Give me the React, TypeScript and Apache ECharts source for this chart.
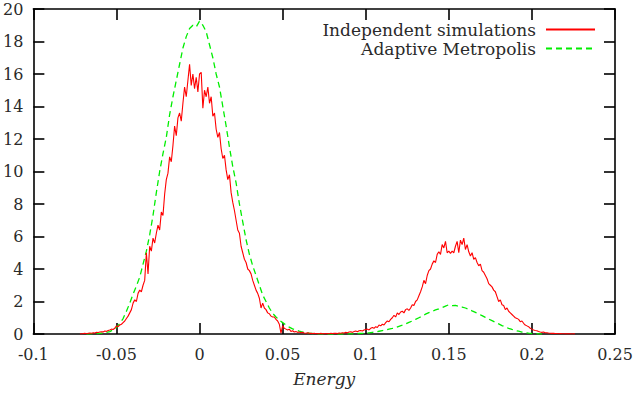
import React, { useEffect, useRef } from "react";
import * as echarts from "echarts";

// Histogram bins (bin start and width) for each series
const redStart = -0.072;
const redStep = 0.001;
const redValues = [
  0.02, 0.0, 0.03, 0.05, 0.02, 0.04, 0.06, 0.05, 0.08, 0.06, 0.1, 0.09, 0.12,
  0.14, 0.13, 0.18, 0.16, 0.22, 0.25, 0.3, 0.28, 0.35, 0.5,
  0.45, 0.55, 0.6, 0.7, 0.8, 0.95, 1.1, 1.3, 1.5, 1.9,
  2.1, 2.0, 2.5, 2.7, 2.6, 3.0, 3.3, 5.0, 3.7, 5.4,
  5.1, 5.9, 5.6, 6.2, 6.7, 6.4, 7.5, 7.3, 8.6, 9.5,
  9.9, 10.9, 10.6, 11.6, 12.8, 12.2, 13.3, 13.6, 13.1, 14.2,
  15.2, 14.6, 15.6, 16.6, 15.3, 16.0, 15.1, 15.8, 14.9, 16.0,
  16.1, 13.9, 15.0, 14.6, 15.2, 14.2, 14.6, 13.4, 13.6, 12.6,
  12.1, 12.4, 11.4, 10.8, 11.0, 10.1, 9.5, 9.8, 8.7, 8.1,
  7.6, 7.0, 6.4, 6.2, 5.4, 5.0, 4.6, 4.4, 4.0, 3.9,
  3.7, 3.3, 3.0, 2.7, 2.5, 2.2, 1.6, 1.9, 1.6, 1.5,
  1.3, 1.25, 1.1, 1.05, 1.05, 0.9, 0.8, 0.6, 0.05, 0.5,
  0.35, 0.3, 0.25, 0.3, 0.15, 0.2, 0.12, 0.15, 0.1, 0.12,
  0.08, 0.1, 0.06, 0.05, 0.08, 0.04, 0.05, 0.03, 0.05, 0.02,
  0.03, 0.02, 0.04, 0.01, 0.03, 0.02, 0.03, 0.02, 0.04, 0.03,
  0.04, 0.05, 0.03, 0.06, 0.05, 0.08, 0.06, 0.1, 0.08, 0.12,
  0.14, 0.1, 0.15, 0.18, 0.14, 0.2, 0.22, 0.18, 0.25, 0.28,
  0.3, 0.25, 0.35, 0.4, 0.35, 0.45, 0.4, 0.55, 0.5, 0.6,
  0.55, 0.7, 0.8, 0.75, 0.9, 1.0, 1.15, 1.05, 1.3, 1.2,
  1.35, 1.4, 1.3, 1.5, 1.55, 1.45, 1.6, 1.8, 1.75, 2.0,
  2.1, 2.35, 2.6, 2.9, 3.3, 3.1, 3.6, 3.9, 4.0, 4.3,
  4.5, 4.4, 4.9, 5.06, 4.9, 5.5, 5.3, 5.7, 5.0, 5.1,
  4.96, 5.1, 5.0, 5.4, 5.7, 5.0, 5.78, 5.5, 5.9, 5.2,
  5.5, 5.06, 4.8, 5.0, 4.6, 4.7, 4.4, 4.2, 4.3, 3.9,
  3.8, 3.6, 3.4, 3.1, 3.0, 2.9, 2.7, 2.6, 2.3, 2.0,
  2.1, 1.8, 1.75, 1.5, 1.6, 1.4, 1.3, 1.2, 1.1, 1.0,
  0.96, 0.9, 0.75, 0.8, 0.66, 0.55, 0.5, 0.45, 0.35, 0.3,
  0.25, 0.22, 0.2, 0.15, 0.12, 0.1, 0.12, 0.08, 0.08, 0.06,
  0.05, 0.04, 0.05, 0.03, 0.03, 0.02, 0.03, 0.02, 0.02, 0.01, 0.02, 0.01, 0.01, 0.0, 0.01, 0.0,
];

const greenStart = -0.068;
const greenStep = 0.002;
const greenValues = [
  0.0, 0.01, 0.02, 0.03, 0.04, 0.06, 0.1, 0.15, 0.25, 0.4,
  0.65, 0.95, 1.4, 1.9, 2.45, 2.95, 3.5, 4.3, 5.1, 6.1,
  7.3, 8.7, 10.0, 11.1, 12.1, 13.5, 14.6, 15.6, 16.6, 17.6,
  18.3, 18.8, 19.0, 18.9, 19.25, 19.0, 18.6, 17.8, 17.0, 16.0,
  15.2, 14.0, 12.8, 11.5, 10.3, 9.3, 8.0, 6.9, 5.8, 4.9,
  4.2, 3.6, 3.0, 2.4, 2.0, 1.6, 1.27, 1.05, 0.85, 0.7,
  0.55, 0.42, 0.32, 0.24, 0.17, 0.12, 0.08, 0.05, 0.03, 0.02,
  0.01, 0.01, 0.0, 0.0, 0.0, 0.0, 0.0, 0.0, 0.0, 0.01,
  0.01, 0.02, 0.03, 0.04, 0.05, 0.07, 0.1, 0.13, 0.17, 0.21,
  0.25, 0.3, 0.34, 0.4, 0.47, 0.54, 0.62, 0.71, 0.8, 0.9,
  1.0, 1.1, 1.22, 1.32, 1.4, 1.48, 1.55, 1.63, 1.72, 1.8,
  1.74, 1.76, 1.7, 1.66, 1.6, 1.52, 1.42, 1.33, 1.23, 1.13,
  1.02, 0.92, 0.82, 0.72, 0.62, 0.52, 0.43, 0.35, 0.28, 0.22,
  0.17, 0.12, 0.08, 0.05, 0.03, 0.02, 0.01, 0.0,
];

const xTicks = { min: -0.1, max: 0.25, interval: 0.05 };
const yTicks = { min: 0, max: 20, interval: 2 };
const seriesNames = ["Independent simulations", "Adaptive Metropolis"];

const FONT = "DejaVu Serif";

function toPairs(start: number, step: number, values: number[]) {
  return values.map((v, i) => [+(start + i * step).toFixed(4), v]);
}

export default function App() {
  const ref = useRef<HTMLDivElement>(null);
  useEffect(() => {
    if (!ref.current) return;
    const chart = echarts.init(ref.current, undefined, { renderer: "svg" });
    const fmt = (v: number) => String(parseFloat(v.toFixed(3)));
    const axisLine = { show: true, onZero: false, lineStyle: { color: "#000", width: 1.6 } };
    const tick = { show: true, inside: true, length: 11, lineStyle: { color: "#000", width: 1.6 } };
    chart.setOption({
      animation: false,
      backgroundColor: "#fff",
      grid: { left: 31, right: 22, top: 9, bottom: 59 },
      legend: {
        orient: "vertical",
        right: 36,
        top: 16,
        padding: 5,
        align: "right",
        itemWidth: 49,
        itemHeight: 14,
        itemGap: 2,
        itemStyle: { opacity: 0 },
        textStyle: { fontFamily: FONT, fontSize: 17, color: "#2a2a2a", padding: [0, 5, 0, 0] },
        data: seriesNames,
      },
      xAxis: [
        {
          type: "value",
          min: xTicks.min,
          max: xTicks.max,
          interval: xTicks.interval,
          axisLine,
          axisTick: tick,
          splitLine: { show: false },
          axisLabel: { fontFamily: FONT, fontSize: 16, color: "#2a2a2a", margin: 12, formatter: fmt },
          name: "Energy",
          nameLocation: "middle",
          nameGap: 36,
          nameTextStyle: { fontFamily: FONT, fontSize: 17, fontStyle: "italic", color: "#2a2a2a" },
        },
        {
          type: "value",
          position: "top",
          min: xTicks.min,
          max: xTicks.max,
          interval: xTicks.interval,
          axisLine,
          axisTick: tick,
          splitLine: { show: false },
          axisLabel: { show: false },
        },
      ],
      yAxis: [
        {
          type: "value",
          min: yTicks.min,
          max: yTicks.max,
          interval: yTicks.interval,
          axisLine,
          axisTick: tick,
          splitLine: { show: false },
          axisLabel: { fontFamily: FONT, fontSize: 16, color: "#2a2a2a", margin: 10, formatter: fmt },
        },
        {
          type: "value",
          position: "right",
          min: yTicks.min,
          max: yTicks.max,
          interval: yTicks.interval,
          axisLine,
          axisTick: tick,
          splitLine: { show: false },
          axisLabel: { show: false },
        },
      ],
      series: [
        {
          name: seriesNames[0],
          type: "line",
          symbol: "none",
          data: toPairs(redStart, redStep, redValues),
          lineStyle: { color: "#ff0000", width: 1.1 },
          itemStyle: { color: "#ff0000" },
          z: 3,
        },
        {
          name: seriesNames[1],
          type: "line",
          symbol: "none",
          data: toPairs(greenStart, greenStep, greenValues),
          lineStyle: { color: "#00ee00", width: 1.3, type: [6, 4] },
          itemStyle: { color: "#00ee00" },
          z: 2,
        },
      ],
    });
    return () => chart.dispose();
  }, []);
  return (
    <div
      ref={ref}
      style={{ position: "fixed", left: 0, top: 0, width: 637, height: 393 }}
    />
  );
}
